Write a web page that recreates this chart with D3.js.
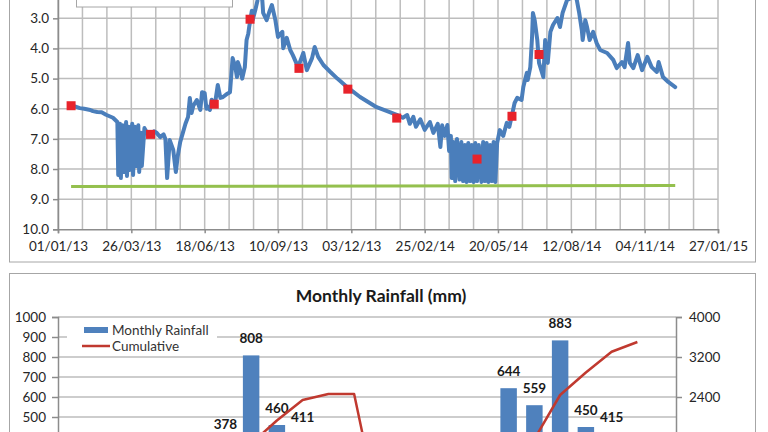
<!DOCTYPE html>
<html>
<head>
<meta charset="utf-8">
<script src="https://cdn.jsdelivr.net/npm/d3@7"></script>
<style>
  body { margin: 0; background: #fff; }
  svg { display: block; font-family: Lato, "Open Sans", sans-serif; }
</style>
</head>
<body>
<svg id="chart" width="768" height="432"></svg>
<script>
// ---- data ----
// logger water level, [days after 01/01/13, metres below ground]
var waterLevel = [
  [15, 5.88], [25, 5.98], [30, 6.0], [37, 6.04], [40, 6.08], [45, 6.11], [50, 6.12],
  [55, 6.2], [63, 6.3], [68, 6.44],
  [69, 8.2], [71, 6.5], [72, 8.3], [74, 6.55], [76, 8.1], [78, 6.44], [79, 8.23],
  [81, 6.6], [82, 8.03], [85, 6.5], [86, 8.2], [88, 6.6], [89, 7.9], [92, 6.55],
  [93, 8.1], [95, 6.8], [96, 7.9], [99, 6.64],
  [100, 6.7], [103, 6.85], [107, 6.9], [110, 6.75], [113, 6.8], [117, 6.94], [121, 6.85],
  [123, 7.0], [125, 8.3], [128, 7.04], [132, 7.37], [135, 8.1], [137, 7.6], [140, 7.1],
  [143, 6.8], [146, 6.5], [149, 6.27], [151, 5.64], [153, 6.14], [155, 5.9], [159, 5.71],
  [163, 6.04], [165, 5.45], [168, 5.48], [170, 6.0], [172, 5.94], [174, 6.04], [176, 5.7],
  [178, 5.81], [180, 5.8], [183, 5.21], [186, 5.64], [189, 5.61], [194, 5.5], [197, 5.45],
  [200, 4.32], [203, 4.6], [205, 4.95], [206, 4.45], [208, 4.62], [211, 5.0], [214, 4.62],
  [216, 3.72], [218, 3.5], [219, 3.29], [222, 2.75], [223, 3.06], [226, 2.72], [229, 2.35],
  [232, 2.3], [234, 2.39], [235, 2.82], [239, 3.06], [242, 2.79], [245, 2.56], [249, 3.06],
  [252, 3.62], [257, 3.45], [258, 3.99], [262, 3.65], [266, 4.05], [269, 4.22], [275, 4.62],
  [281, 4.15], [285, 4.72], [291, 4.32], [294, 3.95], [298, 4.28], [304, 4.55], [312, 4.78],
  [320, 5.0], [332, 5.3], [346, 5.61], [365, 5.95], [380, 6.11], [388, 6.2], [395, 6.3],
  [400, 6.21], [403, 6.5], [407, 6.27], [410, 6.6], [415, 6.35], [420, 6.7], [426, 6.44],
  [430, 6.8], [435, 6.5], [438, 7.27], [440, 6.55], [443, 6.9], [446, 6.54], [448, 7.4],
  [450, 6.9], [451, 8.3], [453, 7.1], [455, 8.4], [457, 7.0], [460, 8.35], [462, 7.1],
  [464, 8.4], [466, 7.2], [468, 8.43], [470, 7.14], [472, 8.4], [474, 7.2], [476, 8.43],
  [478, 7.14], [480, 8.4], [482, 7.2], [485, 8.43], [487, 7.1], [489, 8.4], [491, 7.14],
  [493, 8.43], [495, 7.2], [497, 8.4], [499, 7.1], [501, 8.43], [503, 7.14], [506, 6.71],
  [510, 6.9], [514, 6.47], [517, 6.6], [520, 6.21], [523, 5.81], [526, 5.64], [531, 5.71],
  [533, 5.28], [537, 4.81], [538, 5.05], [541, 4.62], [543, 3.62], [544, 2.82], [546, 3.06],
  [549, 3.72], [551, 4.48], [556, 4.95], [558, 3.72], [560, 4.15], [561, 4.48], [564, 3.45],
  [567, 3.22], [572, 2.99], [575, 3.29], [578, 2.82], [583, 2.4], [589, 2.3], [594, 2.35],
  [597, 2.82], [600, 3.39], [601, 3.72], [604, 3.06], [606, 3.29], [609, 3.72], [613, 3.45],
  [617, 3.82], [621, 4.05], [629, 4.15], [636, 4.38], [640, 4.65], [646, 4.45], [649, 4.62],
  [653, 3.82], [655, 4.48], [659, 4.65], [664, 4.22], [669, 4.72], [675, 4.28], [680, 4.62],
  [686, 4.78], [688, 4.45], [693, 4.95], [699, 5.11], [707, 5.28]
];

// manual dips, [days after 01/01/13, level]
var manualDips = [
  [15, 5.9], [106, 6.85], [179, 5.85], [220, 3.03], [276, 4.66],
  [332, 5.35], [388, 6.31], [480, 7.67], [520, 6.25], [551, 4.2]
];

// flat green reference line
var refLine = [[15, 8.58], [707, 8.55]];

var levelTicks = [3, 4, 5, 6, 7, 8, 9, 10];

// monthly rainfall
var months = ["Jan-13", "Feb-13", "Mar-13", "Apr-13", "May-13", "Jun-13", "Jul-13", "Aug-13",
  "Sep-13", "Oct-13", "Nov-13", "Dec-13", "Jan-14", "Feb-14", "Mar-14", "Apr-14", "May-14",
  "Jun-14", "Jul-14", "Aug-14", "Sep-14", "Oct-14", "Nov-14", "Dec-14"];
var rainfall = [10, 25, 15, 20, 33, 180, 378, 808, 460, 411, 120, 0,
  20, 30, 40, 64, 200, 644, 559, 883, 450, 415, 195, null];
var cumulative = [10, 35, 50, 70, 103, 283, 661, 1469, 1929, 2340, 2460, 2460,
  20, 50, 90, 154, 354, 998, 1557, 2440, 2890, 3305, 3500, null];

// axis labels that fall inside the picture
var rainTicks = [500, 600, 700, 800, 900, 1000];
var cumTicks = [2400, 3200, 4000];

var svg = d3.select("#chart");
var start = new Date(2013, 0, 1);
function dayDate(n) { return d3.timeDay.offset(start, n); }

// ---- frames ----
svg.append("rect").attr("width", 768).attr("height", 432).attr("fill", "#fff");
svg.append("rect")
    .attr("x", 9.5).attr("y", -20).attr("width", 746).attr("height", 282)
    .attr("fill", "none").attr("stroke", "#a6a6a6");
svg.append("rect")
    .attr("x", 9.5).attr("y", 273.5).attr("width", 746).attr("height", 200)
    .attr("fill", "none").attr("stroke", "#a6a6a6");

// ---- top chart: water level ----
var x1 = d3.scaleTime()
    .domain([start, dayDate(756)])
    .range([58, 718]);

var y1 = d3.scaleLinear()
    .domain([2, 10])
    .range([229.3 - 8 * 30.14, 229.3]);

var g1 = svg.append("g");

// gridlines
g1.selectAll(".vgrid")
    .data(d3.range(0, 757, 28))
  .enter().append("line")
    .attr("x1", function(d) { return x1(dayDate(d)); })
    .attr("x2", function(d) { return x1(dayDate(d)); })
    .attr("y1", y1(2)).attr("y2", y1(10))
    .attr("stroke", "#bdbdbd").attr("stroke-width", 1.5);

g1.selectAll(".hgrid")
    .data(d3.range(2, 10))
  .enter().append("line")
    .attr("x1", 58).attr("x2", 718)
    .attr("y1", function(d) { return y1(d); })
    .attr("y2", function(d) { return y1(d); })
    .attr("stroke", "#bdbdbd").attr("stroke-width", 1.5);

// y axis
var yAxis1 = g1.append("g")
    .attr("transform", "translate(58,0)")
    .call(d3.axisLeft(y1).tickValues(levelTicks).tickFormat(d3.format(".1f")).tickSize(5).tickPadding(4));

// x axis
var xAxis1 = g1.append("g")
    .attr("transform", "translate(0," + y1(10) + ")")
    .call(d3.axisBottom(x1)
      .tickValues(d3.range(0, 757, 84).map(dayDate))
      .tickFormat(d3.timeFormat("%d/%m/%y"))
      .tickSize(4).tickPadding(8));

[yAxis1, xAxis1].forEach(function(a) {
  a.select(".domain").attr("stroke", "#8c8c8c").attr("stroke-width", 1.5);
  a.selectAll(".tick line").attr("stroke", "#8c8c8c").attr("stroke-width", 1.5);
  a.selectAll("text").attr("fill", "#262626").style("font-size", "13.5px")
    .style("font-family", "Lato, sans-serif");
});

// legend box (its entries sit above the visible area)
g1.append("rect")
    .attr("x", 76.5).attr("y", -50).attr("width", 156).attr("height", 57)
    .attr("fill", "#fff").attr("stroke", "#a6a6a6");

// green reference line
g1.append("path")
    .datum(refLine)
    .attr("fill", "none")
    .attr("stroke", "#94c04e")
    .attr("stroke-width", 3)
    .attr("d", d3.line()
      .x(function(d) { return x1(dayDate(d[0])); })
      .y(function(d) { return y1(d[1]); }));

// water level line
g1.append("path")
    .datum(waterLevel)
    .attr("fill", "none")
    .attr("stroke", "#4a7ebb")
    .attr("stroke-width", 4)
    .attr("stroke-linejoin", "round")
    .attr("stroke-linecap", "round")
    .attr("d", d3.line()
      .x(function(d) { return x1(dayDate(d[0])); })
      .y(function(d) { return y1(d[1]); }));

// manual dip markers
g1.selectAll(".dip")
    .data(manualDips)
  .enter().append("rect")
    .attr("x", function(d) { return x1(dayDate(d[0])) - 4.5; })
    .attr("y", function(d) { return y1(d[1]) - 4.5; })
    .attr("width", 9).attr("height", 9)
    .attr("fill", "#e8232b");

// ---- bottom chart: monthly rainfall ----
var x2 = d3.scaleBand()
    .domain(months)
    .range([58, 676])
    .paddingInner(0.36)
    .paddingOuter(0.18);

var y2 = d3.scaleLinear().domain([0, 1000]).range([517, 317]);
var y2r = d3.scaleLinear().domain([0, 4000]).range([517, 317]);

var g2 = svg.append("g");

svg.append("text")
    .attr("x", 381).attr("y", 302)
    .attr("text-anchor", "middle")
    .attr("fill", "#1a1a1a")
    .style("font-size", "17.5px").style("font-weight", "bold")
    .text("Monthly Rainfall (mm)");

g2.selectAll(".grid")
    .data(d3.range(0, 1001, 100))
  .enter().append("line")
    .attr("x1", 58).attr("x2", 676)
    .attr("y1", function(d) { return y2(d); })
    .attr("y2", function(d) { return y2(d); })
    .attr("stroke", "#bdbdbd").attr("stroke-width", 1.5);

var yAxis2 = g2.append("g")
    .attr("transform", "translate(58,0)")
    .call(d3.axisLeft(y2).tickValues(rainTicks).tickFormat(d3.format("d")).tickSize(6).tickPadding(6));

var yAxis2r = g2.append("g")
    .attr("transform", "translate(676,0)")
    .call(d3.axisRight(y2r).tickValues(cumTicks).tickFormat(d3.format("d")).tickSize(6).tickPadding(7));

[yAxis2, yAxis2r].forEach(function(a) {
  a.select(".domain").attr("stroke", "#8c8c8c").attr("stroke-width", 1.5);
  a.selectAll(".tick line").attr("stroke", "#8c8c8c").attr("stroke-width", 1.5);
  a.selectAll("text").attr("fill", "#262626").style("font-size", "13.5px")
    .style("font-family", "Lato, sans-serif");
});

var rainData = months.map(function(m, i) {
  return { month: m, rain: rainfall[i], cum: cumulative[i] };
});

g2.selectAll(".bar")
    .data(rainData.filter(function(d) { return d.rain != null; }))
  .enter().append("rect")
    .attr("x", function(d) { return x2(d.month); })
    .attr("y", function(d) { return y2(d.rain); })
    .attr("width", x2.bandwidth())
    .attr("height", function(d) { return y2(0) - y2(d.rain); })
    .attr("fill", "#4f81bd");

// value labels for the bars tall enough to show in the picture
g2.selectAll(".barLabel")
    .data(rainData.filter(function(d) { return d.rain != null && d.rain > 350; }))
  .enter().append("text")
    .attr("x", function(d) { return x2(d.month) + x2.bandwidth() / 2; })
    .attr("y", function(d) { return y2(d.rain) - 12.5; })
    .attr("text-anchor", "middle")
    .attr("fill", "#1a1a1a")
    .style("font-size", "13.5px").style("font-weight", "bold")
    .text(function(d) { return d.rain; });

// cumulative line, restarting each year
g2.append("path")
    .datum(rainData)
    .attr("fill", "none")
    .attr("stroke", "#c0392f")
    .attr("stroke-width", 2.5)
    .attr("stroke-linejoin", "round")
    .attr("d", d3.line()
      .defined(function(d) { return d.cum != null; })
      .x(function(d) { return x2(d.month) + x2.bandwidth() / 2; })
      .y(function(d) { return y2r(d.cum); }));

// legend
var leg2 = g2.append("g");
leg2.append("rect")
    .attr("x", 67).attr("y", 321).attr("width", 150).attr("height", 32)
    .attr("fill", "#fff");
leg2.append("rect")
    .attr("x", 84).attr("y", 327).attr("width", 24).attr("height", 6)
    .attr("fill", "#4f81bd");
leg2.append("text")
    .attr("x", 112).attr("y", 334.5)
    .attr("fill", "#333").style("font-size", "13.5px")
    .text("Monthly Rainfall");
leg2.append("line")
    .attr("x1", 82).attr("x2", 110).attr("y1", 346).attr("y2", 346)
    .attr("stroke", "#c0392f").attr("stroke-width", 2.5);
leg2.append("text")
    .attr("x", 112).attr("y", 350.5)
    .attr("fill", "#333").style("font-size", "13.5px")
    .text("Cumulative");
</script>
</body>
</html>
